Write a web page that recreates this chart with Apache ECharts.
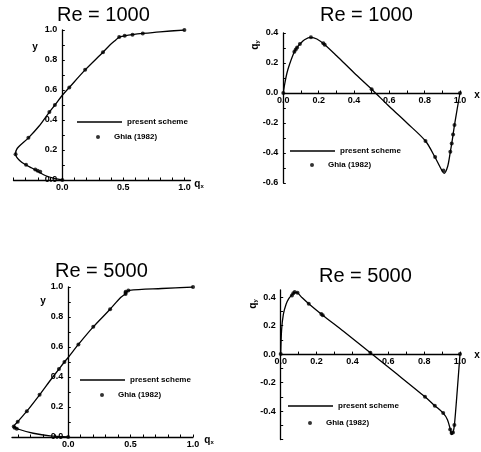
<!DOCTYPE html>
<html>
<head>
<meta charset="utf-8">
<script src="https://cdn.jsdelivr.net/npm/echarts@6/dist/echarts.min.js"></script>
<style>
  html, body { margin: 0; padding: 0; background: #fff; }
  #chart { width: 481px; height: 452px; }
</style>
</head>
<body>
<div id="chart"></div>
<script>
// Ghia (1982) benchmark points, u along vertical centre line
const ghiaY = [1.0, 0.9766, 0.9688, 0.9609, 0.9531, 0.8516, 0.7344, 0.6172, 0.5, 0.4531, 0.2813, 0.1719, 0.1016, 0.0703, 0.0625, 0.0547, 0.0];
const ghiaU1000 = [1.0, 0.659, 0.575, 0.511, 0.466, 0.333, 0.187, 0.057, -0.061, -0.106, -0.278, -0.383, -0.297, -0.222, -0.202, -0.181, 0.0];
const ghiaU5000 = [1.0, 0.482, 0.461, 0.460, 0.460, 0.336, 0.201, 0.082, -0.030, -0.074, -0.229, -0.331, -0.404, -0.436, -0.429, -0.412, 0.0];

// v along horizontal centre line
const ghiaX = [1.0, 0.9688, 0.9609, 0.9531, 0.9453, 0.9063, 0.8594, 0.8047, 0.5, 0.2344, 0.2266, 0.1563, 0.0938, 0.0781, 0.0703, 0.0625, 0.0];
const ghiaV1000 = [0, -0.214, -0.277, -0.337, -0.392, -0.516, -0.427, -0.320, 0.025, 0.322, 0.331, 0.371, 0.326, 0.304, 0.290, 0.275, 0];
const ghiaV5000 = [0, -0.498, -0.551, -0.554, -0.529, -0.414, -0.362, -0.300, 0.009, 0.273, 0.281, 0.354, 0.430, 0.436, 0.428, 0.412, 0];

// present scheme curves
const schemeY1000 = [0, 0.013, 0.03, 0.057, 0.08, 0.10, 0.13, 0.172, 0.21, 0.281, 0.36, 0.453, 0.5, 0.565, 0.617, 0.734, 0.852, 0.9, 0.935, 0.953, 0.961, 0.969, 0.977, 0.988, 1.0];
const schemeU1000 = [0, -0.075, -0.14, -0.2, -0.25, -0.297, -0.35, -0.383, -0.37, -0.278, -0.19, -0.106, -0.061, 0.0, 0.057, 0.187, 0.333, 0.39, 0.44, 0.466, 0.511, 0.575, 0.659, 0.8, 1.0];

const schemeY5000 = [0, 0.007, 0.025, 0.05, 0.0703, 0.1016, 0.172, 0.281, 0.37, 0.453, 0.5, 0.53, 0.617, 0.734, 0.852, 0.93, 0.955, 0.968, 0.978, 0.99, 1.0];
const schemeU5000 = [0, -0.145, -0.28, -0.39, -0.436, -0.404, -0.331, -0.229, -0.15, -0.074, -0.03, 0.0, 0.082, 0.201, 0.336, 0.42, 0.46, 0.47, 0.49, 0.75, 1.0];

const schemeX1000 = [0, 0.008, 0.02, 0.035, 0.0625, 0.0781, 0.0938, 0.12, 0.1563, 0.19, 0.2344, 0.3, 0.4, 0.5, 0.6, 0.7, 0.8047, 0.8594, 0.89, 0.91, 0.93, 0.9453, 0.9531, 0.9609, 0.9688, 0.985, 1.0];
const schemeV1000 = [0, 0.06, 0.13, 0.19, 0.275, 0.304, 0.326, 0.355, 0.371, 0.36, 0.322, 0.25, 0.135, 0.025, -0.09, -0.2, -0.32, -0.43, -0.5, -0.535, -0.49, -0.392, -0.337, -0.277, -0.214, -0.1, 0];

const schemeX5000 = [0, 0.005, 0.015, 0.03, 0.045, 0.0625, 0.0781, 0.0938, 0.12, 0.1563, 0.2344, 0.35, 0.5, 0.65, 0.8047, 0.8594, 0.9063, 0.93, 0.9453, 0.9531, 0.9609, 0.9688, 0.985, 1.0];
const schemeV5000 = [0, 0.17, 0.28, 0.35, 0.39, 0.415, 0.434, 0.43, 0.395, 0.354, 0.273, 0.16, 0.009, -0.142, -0.3, -0.362, -0.414, -0.46, -0.525, -0.565, -0.551, -0.498, -0.25, 0];

// tick labels and tick marks
const labelsUX = [0, 0.5, 1.0];
const labelsY01 = [0, 0.2, 0.4, 0.6, 0.8, 1.0];
const labelsX01 = [0, 0.2, 0.4, 0.6, 0.8, 1.0];
const labelsV1000 = [-0.6, -0.4, -0.2, 0, 0.2, 0.4];
const labelsV5000 = [-0.4, -0.2, 0, 0.2, 0.4];
const ticksU1000 = [-0.4, -0.3, -0.2, -0.1, 0, 0.1, 0.2, 0.3, 0.4, 0.5, 0.6, 0.7, 0.8, 0.9, 1.0];
const ticksU5000 = [-0.4, -0.3, -0.2, -0.1, 0, 0.1, 0.2, 0.3, 0.4, 0.5, 0.6, 0.7, 0.8, 0.9, 1.0];
const ticks01 = [0, 0.1, 0.2, 0.3, 0.4, 0.5, 0.6, 0.7, 0.8, 0.9, 1.0];
const ticksV1000 = [-0.6, -0.5, -0.4, -0.3, -0.2, -0.1, 0, 0.1, 0.2, 0.3, 0.4];
const ticksV5000 = [-0.6, -0.5, -0.4, -0.3, -0.2, -0.1, 0, 0.1, 0.2, 0.3, 0.4];

const titles = ['Re = 1000', 'Re = 1000', 'Re = 5000', 'Re = 5000'];
const LINE_NAME = 'present scheme';
const DOT_NAME = 'Ghia (1982)';
const FONT = "'Liberation Sans', Arial, Helvetica, sans-serif";

function pairs(xs, ys) {
  return xs.map((x, i) => [x, ys[i]]);
}

// axes sit on the zero lines: moved there with offset so labels follow
function axisX(gridIndex, min, max, labels, ticks, offset) {
  return {
    gridIndex: gridIndex,
    type: 'value',
    position: 'bottom',
    offset: offset,
    min: min,
    max: max,
    splitLine: { show: false },
    axisLine: { onZero: false, lineStyle: { color: '#000', width: 1.3 } },
    axisTick: { inside: true, length: 2.5, customValues: ticks, lineStyle: { color: '#000', width: 1 } },
    axisLabel: {
      customValues: labels,
      margin: 3,
      formatter: v => v.toFixed(1),
      color: '#000', fontSize: 9, fontWeight: 'bold', fontFamily: FONT
    }
  };
}

function axisY(gridIndex, min, max, labels, ticks, offset) {
  return {
    gridIndex: gridIndex,
    type: 'value',
    position: 'left',
    offset: offset,
    min: min,
    max: max,
    splitLine: { show: false },
    axisLine: { onZero: false, lineStyle: { color: '#000', width: 1.3 } },
    axisTick: { inside: true, length: 2.5, customValues: ticks, lineStyle: { color: '#000', width: 1 } },
    axisLabel: {
      customValues: labels,
      margin: 5,
      formatter: v => v.toFixed(1),
      color: '#000', fontSize: 9, fontWeight: 'bold', fontFamily: FONT
    }
  };
}

function lineSeries(idx, data) {
  return {
    type: 'line', name: LINE_NAME, xAxisIndex: idx, yAxisIndex: idx,
    data: data, symbol: 'none', smooth: 0.3, color: '#000',
    lineStyle: { color: '#000', width: 1.3 }, z: 2
  };
}

function dotSeries(idx, data) {
  return {
    type: 'scatter', name: DOT_NAME, xAxisIndex: idx, yAxisIndex: idx,
    data: data, symbol: 'circle', symbolSize: 4, color: '#000',
    itemStyle: { color: '#000' }, z: 3
  };
}

function legend(name, icon, left, top, w, h) {
  return {
    left: left, top: top, orient: 'vertical', padding: 0,
    itemWidth: w, itemHeight: h, selectedMode: false,
    data: [{ name: name, icon: icon }],
    textStyle: { color: '#000', fontSize: 8, fontWeight: 'bold', fontFamily: FONT, lineHeight: 10 }
  };
}

function title(text, left, top) {
  return {
    text: text, left: left, top: top, padding: 0,
    textStyle: { color: '#000', fontSize: 20, fontWeight: 'normal', fontFamily: FONT }
  };
}

function axisName(rich, x, y, rotation) {
  return {
    type: 'text', x: x, y: y, rotation: rotation || 0,
    style: {
      text: rich, fill: '#000', align: 'center', verticalAlign: 'middle',
      font: 'bold 9px ' + FONT,
      rich: {
        q: { fontSize: 10, fontWeight: 'bold', fontFamily: FONT },
        s: { fontSize: 6, fontWeight: 'bold', fontFamily: FONT, padding: [5, 0, 0, 0] }
      }
    }
  };
}

const chart = echarts.init(document.getElementById('chart'), null, { renderer: 'canvas' });

chart.setOption({
  animation: false,
  backgroundColor: '#fff',
  title: [
    title(titles[0], 57, 5),
    title(titles[1], 320, 5),
    title(titles[2], 55, 261),
    title(titles[3], 319, 266)
  ],
  grid: [
    { left: 13.5, top: 30, width: 177, height: 150, outerBoundsMode: 'none' },
    { left: 283.3, top: 33, width: 176.7, height: 150, outerBoundsMode: 'none' },
    { left: 12, top: 287, width: 181, height: 150, outerBoundsMode: 'none' },
    { left: 280.7, top: 290, width: 179.3, height: 149.6, outerBoundsMode: 'none' }
  ],
  xAxis: [
    axisX(0, -0.4, 1.05, labelsUX, ticksU1000, 0),
    axisX(1, 0, 1.0, labelsX01, ticks01, -90),
    axisX(2, -0.45, 1.0, labelsUX, ticksU5000, 0),
    axisX(3, 0, 1.0, labelsX01, ticks01, -85.5)
  ],
  yAxis: [
    axisY(0, 0, 1.0, labelsY01, ticks01, -48.8),
    axisY(1, -0.6, 0.4, labelsV1000, ticksV1000, 0),
    axisY(2, 0, 1.0, labelsY01, ticks01, -56.25),
    axisY(3, -0.6, 0.45, labelsV5000, ticksV5000, 0)
  ],
  legend: [
    legend(LINE_NAME, 'rect', 77, 117, 45, 1.3),
    legend(DOT_NAME, 'circle', 96, 132, 22, 4),
    legend(LINE_NAME, 'rect', 290, 146, 45, 1.3),
    legend(DOT_NAME, 'circle', 310, 160, 22, 4),
    legend(LINE_NAME, 'rect', 80, 375, 45, 1.3),
    legend(DOT_NAME, 'circle', 100, 390, 22, 4),
    legend(LINE_NAME, 'rect', 288, 401, 45, 1.3),
    legend(DOT_NAME, 'circle', 308, 418, 22, 4)
  ],
  graphic: [
    axisName('{q|y}', 35, 47),
    axisName('{q|q}{s|x}', 199, 184),
    axisName('{q|y}', 43, 301),
    axisName('{q|q}{s|x}', 209, 440),
    axisName('{q|x}', 477, 95),
    axisName('{q|x}', 477, 355),
    axisName('{q|q}{s|y}', 255, 45, Math.PI / 2),
    axisName('{q|q}{s|y}', 253, 304, Math.PI / 2)
  ],
  series: [
    lineSeries(0, pairs(schemeU1000, schemeY1000)),
    dotSeries(0, pairs(ghiaU1000, ghiaY)),
    lineSeries(1, pairs(schemeX1000, schemeV1000)),
    dotSeries(1, pairs(ghiaX, ghiaV1000)),
    lineSeries(2, pairs(schemeU5000, schemeY5000)),
    dotSeries(2, pairs(ghiaU5000, ghiaY)),
    lineSeries(3, pairs(schemeX5000, schemeV5000)),
    dotSeries(3, pairs(ghiaX, ghiaV5000))
  ]
});
</script>
</body>
</html>
